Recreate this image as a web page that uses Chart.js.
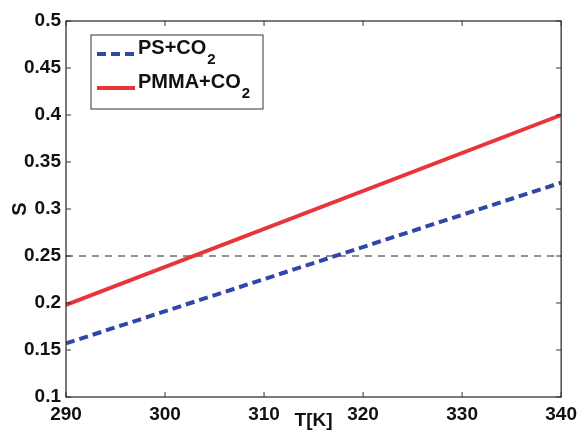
<!DOCTYPE html>
<html>
<head>
<meta charset="utf-8">
<script src="https://cdn.jsdelivr.net/npm/chart.js@4/dist/chart.umd.min.js"></script>
<style>
  html, body { margin: 0; padding: 0; background: #fff; }
  #wrap { width: 583px; height: 432px; }
</style>
</head>
<body>
<div id="wrap"><canvas id="c" width="583" height="432"></canvas></div>
<script>
// data
const temps = [290, 340];
const psCO2 = [0.157, 0.328];
const pmmaCO2 = [0.198, 0.400];
const refLevel = [0.25, 0.25];
const xTicks = [290, 300, 310, 320, 330, 340];
const yTicks = [0.1, 0.15, 0.2, 0.25, 0.3, 0.35, 0.4, 0.45, 0.5];

const FONT = '"Liberation Sans", Arial, sans-serif';
const AXIS = '#333';

const pts = (xs, ys) => xs.map((x, i) => ({ x: x, y: ys[i] }));

// frame + inward ticks on all four sides (matlab style)
const framePlugin = {
    id: 'frame',
    afterDraw(chart) {
        const { ctx, chartArea: a, scales } = chart;
        ctx.save();
        ctx.strokeStyle = AXIS;
        ctx.lineWidth = 1.3;
        ctx.strokeRect(a.left, a.top, a.right - a.left, a.bottom - a.top);
        ctx.lineWidth = 1;
        const len = 5;
        xTicks.forEach(v => {
            const px = scales.x.getPixelForValue(v);
            ctx.beginPath();
            ctx.moveTo(px, a.bottom); ctx.lineTo(px, a.bottom - len);
            ctx.moveTo(px, a.top); ctx.lineTo(px, a.top + len);
            ctx.stroke();
        });
        yTicks.forEach(v => {
            const py = scales.y.getPixelForValue(v);
            ctx.beginPath();
            ctx.moveTo(a.left, py); ctx.lineTo(a.left + len, py);
            ctx.moveTo(a.right, py); ctx.lineTo(a.right - len, py);
            ctx.stroke();
        });
        ctx.restore();
    }
};

// boxed legend in the upper left with CO2 subscripts
const legendPlugin = {
    id: 'boxLegend',
    afterDraw(chart) {
        const { ctx, chartArea: a } = chart;
        const bx = a.left + 25, by = a.top + 14, bw = 172, bh = 74;
        ctx.save();
        ctx.fillStyle = '#fff';
        ctx.fillRect(bx, by, bw, bh);
        ctx.strokeStyle = AXIS;
        ctx.lineWidth = 1;
        ctx.strokeRect(bx, by, bw, bh);
        const rows = [chart.data.datasets[0], chart.data.datasets[1]];
        const names = ['PS+CO', 'PMMA+CO'];
        rows.forEach((ds, i) => {
            const cy = by + 13 + i * 34;
            ctx.strokeStyle = ds.borderColor;
            ctx.lineWidth = ds.borderWidth;
            ctx.setLineDash(ds.borderDash || []);
            ctx.beginPath();
            ctx.moveTo(bx + 6, cy + 6);
            ctx.lineTo(bx + 44, cy + 6);
            ctx.stroke();
            ctx.setLineDash([]);
            ctx.fillStyle = '#111';
            ctx.font = 'bold 20px ' + FONT;
            ctx.textBaseline = 'middle';
            ctx.textAlign = 'left';
            ctx.fillText(names[i], bx + 47, cy);
            const w = ctx.measureText(names[i]).width;
            ctx.font = 'bold 15px ' + FONT;
            ctx.fillText('2', bx + 47 + w + 1, cy + 12);
        });
        ctx.restore();
    }
};

new Chart(document.getElementById('c'), {
    type: 'scatter',
    data: {
        datasets: [
            {
                label: 'PS+CO2',
                data: pts(temps, psCO2),
                showLine: true,
                borderColor: '#2f47a6',
                borderWidth: 4,
                borderDash: [9, 5],
                pointRadius: 0,
                order: 1
            },
            {
                label: 'PMMA+CO2',
                data: pts(temps, pmmaCO2),
                showLine: true,
                borderColor: '#e8353a',
                borderWidth: 4,
                pointRadius: 0,
                order: 0
            },
            {
                label: 'ref',
                data: pts(temps, refLevel),
                showLine: true,
                borderColor: '#222',
                borderWidth: 1,
                borderDash: [7, 6],
                pointRadius: 0,
                order: 2
            }
        ]
    },
    options: {
        responsive: false,
        animation: false,
        layout: { padding: { top: 21, right: 16, left: 0, bottom: 0 } },
        plugins: {
            legend: { display: false },
            tooltip: { enabled: false }
        },
        scales: {
            x: {
                type: 'linear',
                min: 290, max: 340,
                afterBuildTicks(s) { s.ticks = xTicks.map(v => ({ value: v })); },
                afterFit(s) { s.height = 35; },
                grid: { display: false, drawTicks: false },
                border: { display: false },
                ticks: {
                    padding: 6,
                    color: '#111',
                    font: { family: FONT, size: 19, weight: 'bold' },
                    maxRotation: 0
                },
                title: {
                    display: true,
                    text: 'T[K]',
                    color: '#111',
                    font: { family: FONT, size: 19, weight: 'bold' },
                    padding: { top: -14, bottom: 0 }
                }
            },
            y: {
                type: 'linear',
                min: 0.1, max: 0.5,
                afterBuildTicks(s) { s.ticks = yTicks.map(v => ({ value: v })); },
                afterFit(s) { s.width = 66; },
                grid: { display: false, drawTicks: false },
                border: { display: false },
                ticks: {
                    padding: 5,
                    color: '#111',
                    font: { family: FONT, size: 19, weight: 'bold' },
                    callback: v => String(Math.round(v * 100) / 100)
                },
                title: {
                    display: true,
                    text: 'S',
                    color: '#111',
                    font: { family: FONT, size: 20, weight: 'bold' },
                    padding: { top: 8, bottom: 0 }
                }
            }
        }
    },
    plugins: [framePlugin, legendPlugin]
});
</script>
</body>
</html>
